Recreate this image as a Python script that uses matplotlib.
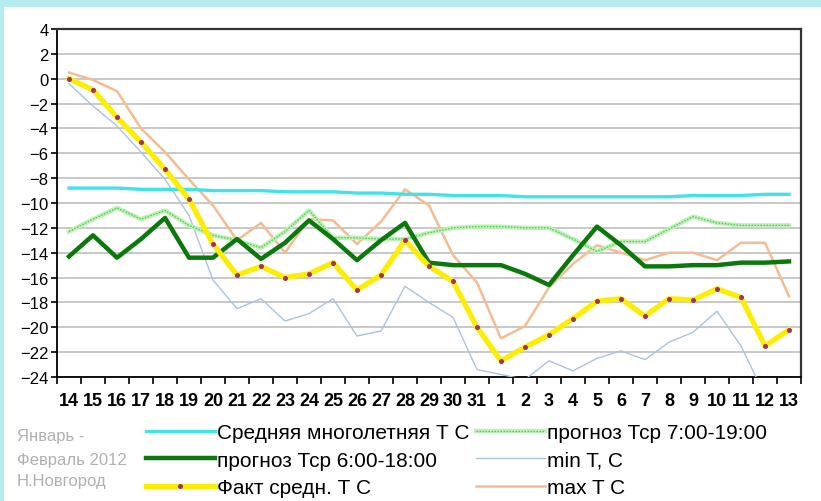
import matplotlib
matplotlib.use('Agg')
import matplotlib.pyplot as plt
from matplotlib.patches import Rectangle
from matplotlib.lines import Line2D
import numpy as np

# ============================================================
# DATA (Н.Новгород, январь - февраль 2012)
# ============================================================
days = ['14', '15', '16', '17', '18', '19', '20', '21', '22', '23', '24', '25', '26',
        '27', '28', '29', '30', '31', '1', '2', '3', '4', '5', '6', '7', '8', '9',
        '10', '11', '12', '13']

t_norm = [-8.8, -8.8, -8.8, -8.9, -8.9, -8.9, -9.0, -9.0, -9.0, -9.1, -9.1, -9.1, -9.2,
          -9.2, -9.3, -9.3, -9.4, -9.4, -9.4, -9.5, -9.5, -9.5, -9.5, -9.5, -9.5, -9.5,
          -9.4, -9.4, -9.4, -9.3, -9.3]
fc_7_19 = [-12.3, -11.3, -10.4, -11.3, -10.6, -11.8, -12.6, -13.0, -13.6, -12.3, -10.6,
           -12.8, -12.8, -12.9, -12.9, -12.4, -12.0, -11.9, -11.9, -12.0, -12.0, -12.9,
           -13.9, -13.1, -13.1, -12.1, -11.1, -11.6, -11.8, -11.8, -11.8]
fc_6_18 = [-14.3, -12.6, -14.4, -12.9, -11.2, -14.4, -14.4, -12.9, -14.5, -13.2, -11.4,
           -12.9, -14.6, -13.0, -11.6, -14.8, -15.0, -15.0, -15.0, -15.7, -16.6, -14.2,
           -11.9, -13.4, -15.1, -15.1, -15.0, -15.0, -14.8, -14.8, -14.7]
t_min = [-0.4, -2.2, -3.8, -5.9, -8.1, -11.0, -16.2, -18.5, -17.7, -19.5, -18.9, -17.7,
         -20.7, -20.3, -16.7, -18.0, -19.2, -23.4, -23.8, -24.2, -22.7, -23.5, -22.5,
         -21.9, -22.6, -21.2, -20.4, -18.7, -21.5, -25.5, -25.5]
t_fact = [0.0, -0.9, -3.1, -5.1, -7.3, -9.7, -13.3, -15.8, -15.1, -16.0, -15.7, -14.8,
          -17.0, -15.8, -13.0, -15.1, -16.3, -20.0, -22.7, -21.6, -20.6, -19.3, -17.9,
          -17.7, -19.1, -17.7, -17.8, -16.9, -17.6, -21.5, -20.2]
t_max = [0.5, -0.1, -1.0, -4.0, -5.9, -8.1, -10.2, -13.0, -11.6, -14.0, -11.3, -11.4,
         -13.3, -11.5, -8.9, -10.2, -14.2, -16.4, -20.9, -19.9, -16.8, -14.9, -13.4,
         -14.0, -14.6, -14.0, -14.0, -14.6, -13.2, -13.2, -17.5]

# ============================================================
# STYLE
# ============================================================
CYAN = '#3fe3ea'
LGREEN = '#bdf0b6'
LGREEN_DOT = '#4ccc4c'
DGREEN = '#0a780a'
YELLOW = '#fbee00'
DOT = '#a0306a'
MINC = '#a9c3e3'
MAXC = '#f4bc94'
GRID = '#c4c4c4'
BORDER = '#b5ecef'

plt.rcParams.update({
    'font.family': ['Liberation Sans', 'DejaVu Sans'],
    'figure.dpi': 100,
})

fig = plt.figure(figsize=(8.21, 5.02), facecolor='white')

# light cyan frame at top and left
fig.patches.append(Rectangle((0, 1 - 8 / 502), 1, 8 / 502, transform=fig.transFigure,
                             facecolor=BORDER, edgecolor='none', zorder=0))
fig.patches.append(Rectangle((0, 0), 4 / 821, 1, transform=fig.transFigure,
                             facecolor=BORDER, edgecolor='none', zorder=0))

ax = fig.add_axes([57 / 821, 1 - 378 / 502, (801 - 57) / 821, (378 - 30) / 502])

x = np.arange(len(days))

ax.plot(x, t_min, color=MINC, lw=1.0, zorder=3)
ax.plot(x, t_max, color=MAXC, lw=1.8, zorder=3)
ax.plot(x, t_norm, color=CYAN, lw=2.4, zorder=4)
l7a, = ax.plot(x, fc_7_19, color=LGREEN, lw=3.2, zorder=4)
l7b, = ax.plot(x, fc_7_19, color=LGREEN_DOT, lw=0.9, dashes=(1.2, 1.2), zorder=4)
l6, = ax.plot(x, fc_6_18, color=DGREEN, lw=3.2, zorder=5)
lf, = ax.plot(x, t_fact, color=YELLOW, lw=3.8, zorder=6,
              marker='o', markersize=2.6, markerfacecolor=DOT, markeredgecolor=DOT)

ax.set_xlim(-0.5, len(days) - 0.5)
ax.set_ylim(-24, 4)
ax.set_yticks(np.arange(-24, 5, 2))
ax.set_xticks(x)
ax.set_xticklabels(days, fontsize=13, fontweight='bold')
ax.set_xticks(np.arange(-0.5, len(days), 1), minor=True)
ax.tick_params(axis='x', which='major', length=0, pad=11)
ax.tick_params(axis='x', which='minor', length=5, width=1.2, direction='out', color='black')
ax.tick_params(axis='y', length=4, width=1.2, direction='out', labelsize=12, pad=2)

ax.grid(True, axis='y', color=GRID, lw=1.3)
ax.set_axisbelow(True)
for side in ['left', 'bottom']:
    ax.spines[side].set_color('black')
    ax.spines[side].set_linewidth(1.3)
for side in ['top', 'right']:
    ax.spines[side].set_color('#333333')
    ax.spines[side].set_linewidth(1.6)

# legend (column-major: left column, then right column)
h_norm = Line2D([], [], color=CYAN, lw=2.4)
h_min = Line2D([], [], color=MINC, lw=1.0)
h_max = Line2D([], [], color=MAXC, lw=1.8)
handles = [h_norm, l6, lf, (l7a, l7b), h_min, h_max]
labels = ['Средняя многолетняя Т С', 'прогноз Тср 6:00-18:00', 'Факт средн. Т С',
          'прогноз Тср 7:00-19:00', 'min T, C', 'max T C']
fig.legend(handles, labels, ncol=2, loc='upper left', bbox_to_anchor=(146 / 821, 1 - 424 / 502),
           frameon=False, fontsize=15, handlelength=3.3, handletextpad=0.12,
           columnspacing=0.3, labelspacing=0.42, borderpad=0, borderaxespad=0, numpoints=1)

fig.text(17 / 821, 1 - 437 / 502, 'Январь -', color='#b0b0b0', fontsize=12, va='center')
fig.text(17 / 821, 1 - 461 / 502, 'Февраль 2012', color='#b0b0b0', fontsize=12, va='center')
fig.text(17 / 821, 1 - 482 / 502, 'Н.Новгород', color='#b0b0b0', fontsize=12, va='center')

fig.savefig('out.png', dpi=100, facecolor='white')
